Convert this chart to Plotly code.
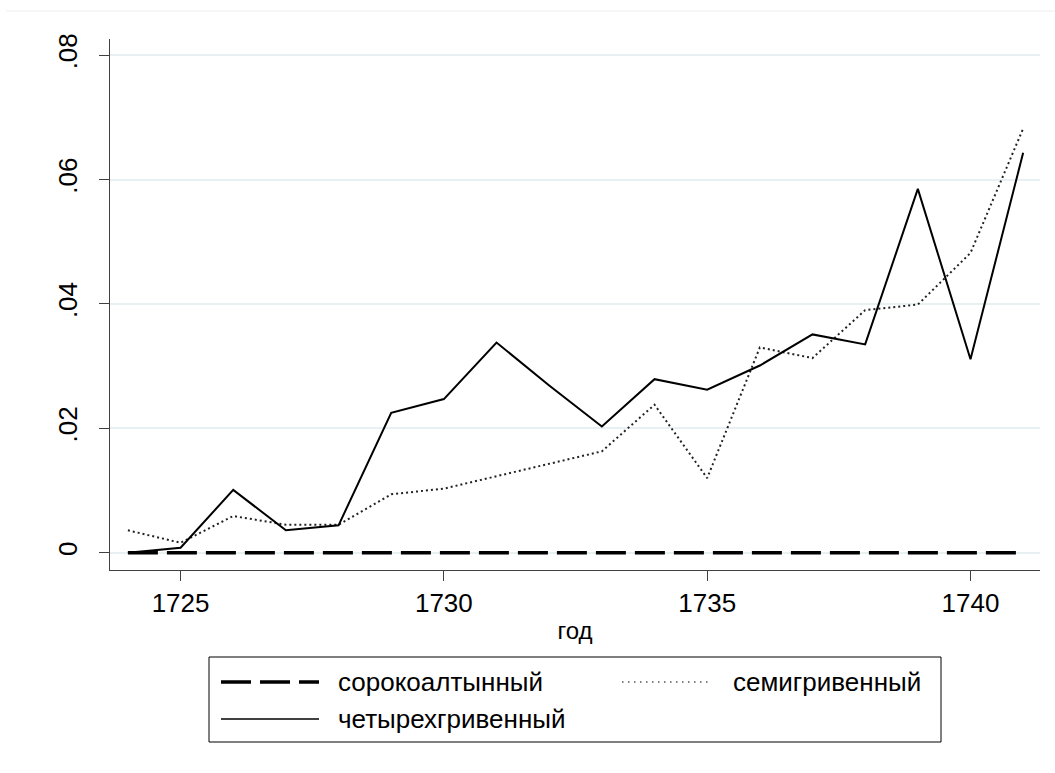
import plotly.graph_objects as go

years = list(range(1724, 1742))
sorokoaltynny = [0.0] * 18
semigrivenny = [0.0036, 0.0016, 0.0059, 0.0045, 0.0045, 0.0094, 0.0103, 0.0123, 0.0144, 0.0163,
                0.0238, 0.0120, 0.0330, 0.0313, 0.0390, 0.0399, 0.0482, 0.0682]
chetyrekhgrivenny = [0.0, 0.0008, 0.0101, 0.0036, 0.0044, 0.0225, 0.0247, 0.0338, 0.0269, 0.0203,
                     0.0279, 0.0262, 0.0301, 0.0351, 0.0335, 0.0585, 0.0311, 0.0643]
names = ["сорокоалтынный", "семигривенный", "четырехгривенный"]
x_ticks = [1725, 1730, 1735, 1740]
y_ticks = [0, 0.02, 0.04, 0.06, 0.08]
y_ticktext = ["0", ".02", ".04", ".06", ".08"]
x_title = "год"

FONT = "Liberation Sans, Arial, Helvetica, sans-serif"
FS = 26
W, H = 1055, 773
L, R, T, B = 110, 1040, 39, 570

def px(x):
    return (x - L) / (R - L)

def py(y):
    return (B - y) / (B - T)

fig = go.Figure()
fig.add_trace(go.Scatter(x=years, y=sorokoaltynny, mode="lines", name=names[0],
                         line=dict(color="black", width=3.5, dash="30px,9px"), showlegend=False))
fig.add_trace(go.Scatter(x=years, y=semigrivenny, mode="lines", name=names[1],
                         line=dict(color="#222222", width=2, dash="2px,3px"), showlegend=False))
fig.add_trace(go.Scatter(x=years, y=chetyrekhgrivenny, mode="lines", name=names[2],
                         line=dict(color="black", width=2), showlegend=False))

shapes = []
annotations = []
# legend box
shapes.append(dict(type="rect", xref="paper", yref="paper",
                   x0=px(209), x1=px(941), y0=py(657), y1=py(742),
                   line=dict(color="black", width=1), fillcolor="white"))
legend_items = [
    (names[0], 221, 319, 336, 682, dict(color="black", width=3.5, dash="30px,9px")),
    (names[1], 622, 712, 731, 682, dict(color="#555555", width=1.5, dash="1.5px,4.5px")),
    (names[2], 221, 319, 336, 719, dict(color="black", width=1.5)),
]
for name, x0, x1, xt, yy, ln in legend_items:
    shapes.append(dict(type="line", xref="paper", yref="paper",
                       x0=px(x0), x1=px(x1), y0=py(yy), y1=py(yy), line=ln))
    annotations.append(dict(text=name, xref="paper", yref="paper",
                            x=px(xt), y=py(yy), xanchor="left", yanchor="middle",
                            showarrow=False, font=dict(family=FONT, size=FS, color="black")))
# faint outer frame line near top
shapes.append(dict(type="line", xref="paper", yref="paper",
                   x0=px(6), x1=px(1055), y0=py(11), y1=py(11),
                   line=dict(color="#eeeeee", width=1)))

fig.update_layout(
    width=W, height=H,
    margin=dict(l=L, r=W - R, t=T, b=H - B, pad=0, autoexpand=False),
    paper_bgcolor="white", plot_bgcolor="white",
    font=dict(family=FONT, size=FS, color="black"),
    shapes=shapes, annotations=annotations,
    showlegend=False,
)
fig.update_xaxes(range=[1723.66, 1741.32], tickvals=x_ticks, ticks="outside", ticklen=10,
                 tickcolor="#404040", showline=True, linecolor="#404040", linewidth=1,
                 showgrid=False, zeroline=False, automargin=False,
                 title=dict(text=x_title, standoff=4, font=dict(size=24)),
                 tickfont=dict(size=FS))
fig.update_yaxes(range=[-0.00278, 0.0826], tickvals=y_ticks, ticktext=y_ticktext,
                 ticks="outside", ticklen=10, tickangle=-90, tickcolor="#404040",
                 showline=True, linecolor="#404040", linewidth=1, automargin=False,
                 showgrid=True, gridcolor="#e8f0f2", gridwidth=2, zeroline=False,
                 tickfont=dict(size=FS), ticklabelstandoff=12)

fig.write_html("out.html", config={"displayModeBar": False},
               post_script="document.body.style.margin='0';document.body.style.overflow='hidden';")
